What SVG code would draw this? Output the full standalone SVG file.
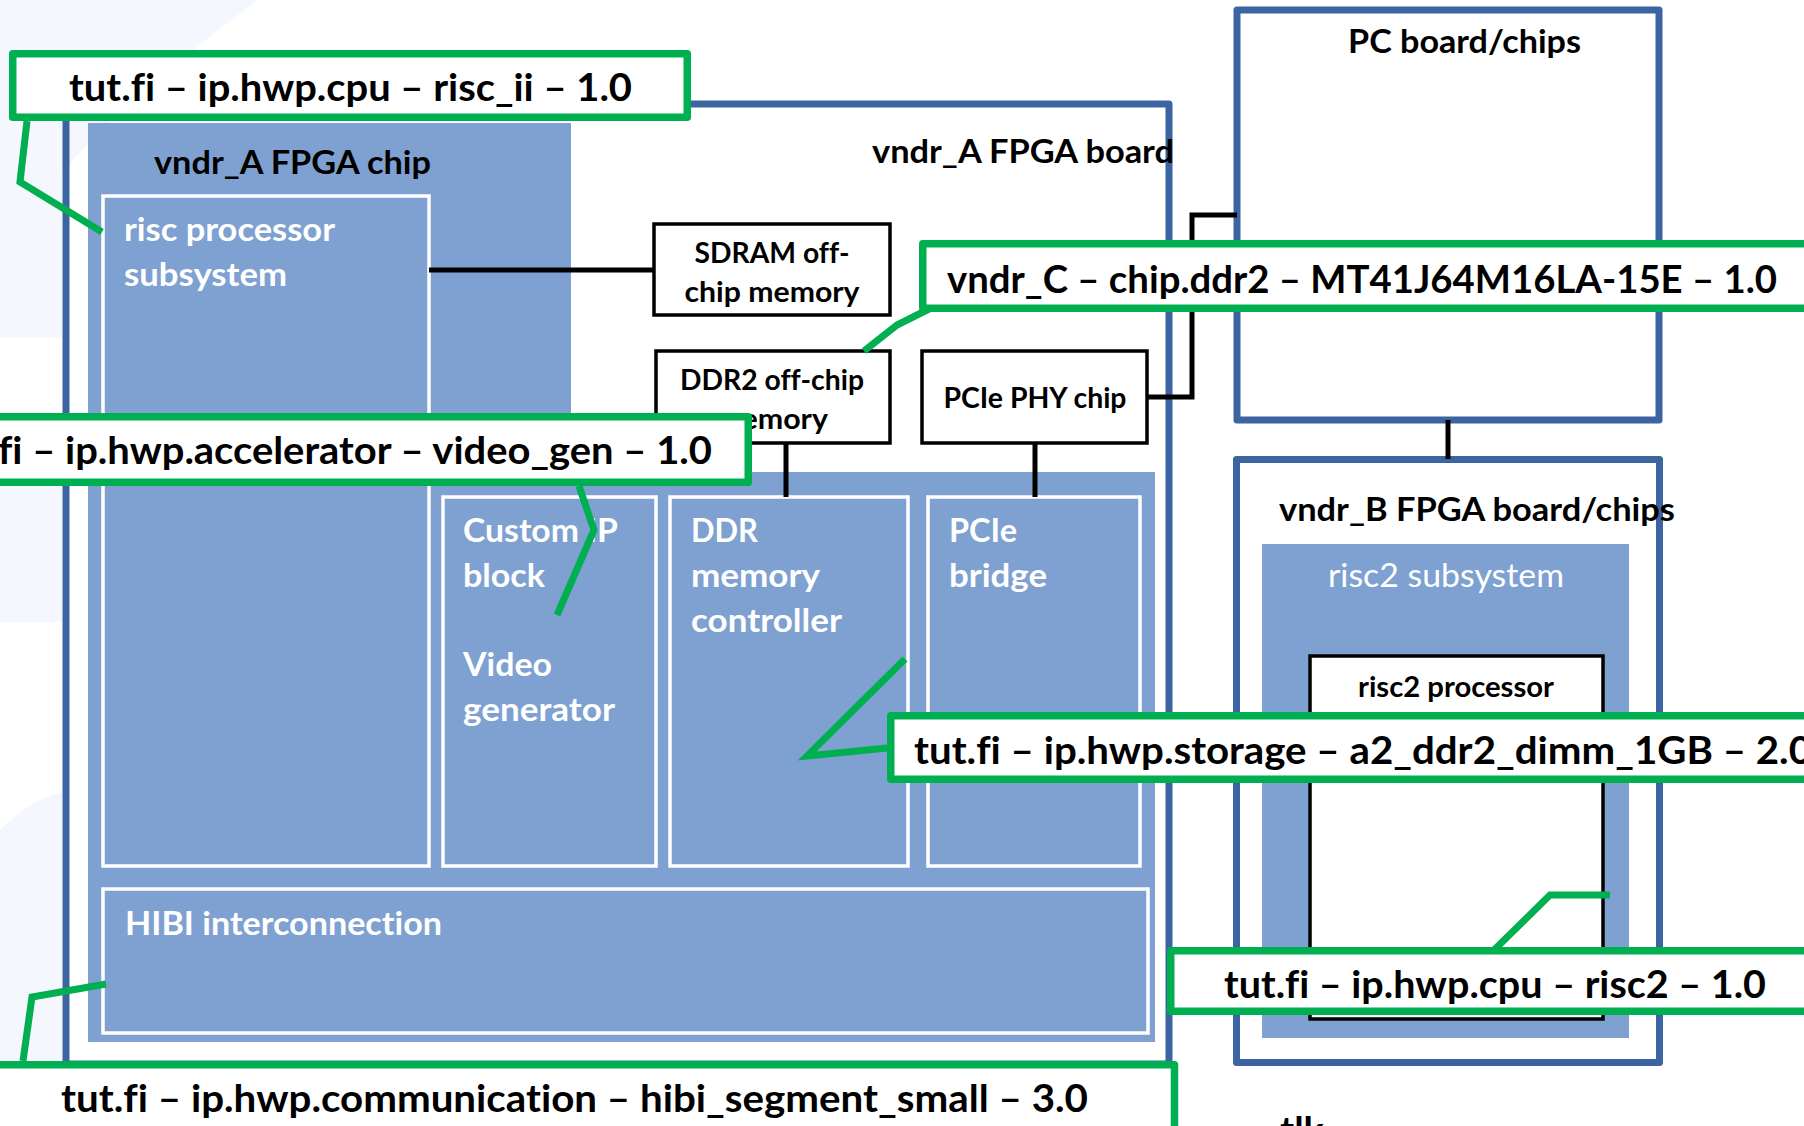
<svg xmlns="http://www.w3.org/2000/svg" width="1804" height="1126" viewBox="0 0 1804 1126">
  <style>
    .board { fill: none; stroke: #3b64a1; stroke-width: 7; stroke-linejoin: round; }
    .chip { fill: #7ea1d1; }
    .blk { fill: #7ea1d1; stroke: #ffffff; stroke-width: 3.5; }
    .part { fill: #ffffff; stroke: #000000; stroke-width: 3.5; }
    .wire { fill: none; stroke: #000000; stroke-width: 5; }
    .tag { fill: #ffffff; stroke: #00b050; stroke-width: 7.5; stroke-linejoin: round; }
    .lead { fill: none; stroke: #00b050; stroke-width: 7; stroke-linejoin: miter; }
    .t { font-family: Lato, "Open Sans", "Liberation Sans", sans-serif; font-weight: 700;
         font-variant-ligatures: none; font-feature-settings: "liga" 0, "clig" 0; }
    .h { font-size: 33px; fill: #000000; }
    .w { font-size: 33px; fill: #ffffff; }
    .wr { font-size: 33px; fill: #ffffff; font-weight: 400; }
    .b { font-size: 28.5px; fill: #000000; text-anchor: middle; }
    .g { font-size: 38px; fill: #000000; }
  </style>

  <!-- slide backdrop -->
  <rect x="0" y="0" width="1804" height="1126" fill="#ffffff"/>
  <g id="backdrop" fill="#f4f7fd">
    <path d="M0,0 H258 Q190,50 120,110 Q80,150 62,175 V338 H0 Z"/>
    <rect x="0" y="468" width="62" height="154"/>
    <path d="M0,830 Q30,800 62,792 V1126 H0 Z"/>
  </g>

  <!-- boards -->
  <g id="board_a">
    <rect class="board" x="66" y="104" width="1103" height="960"/>
    <text class="t h" x="872" y="163" textLength="302" lengthAdjust="spacingAndGlyphs">vndr_A FPGA board</text>
  </g>
  <g id="pc_board">
    <rect class="board" x="1237" y="10" width="422" height="410"/>
    <text class="t h" x="1348" y="53" textLength="233" lengthAdjust="spacingAndGlyphs">PC board/chips</text>
  </g>
  <g id="board_b">
    <rect class="board" x="1236.5" y="459.5" width="423" height="603"/>
    <text class="t h" x="1279" y="521" textLength="396" lengthAdjust="spacingAndGlyphs">vndr_B FPGA board/chips</text>
  </g>

  <!-- FPGA chip on board A -->
  <g id="fpga_chip">
    <path class="chip" d="M88,123 H571 V472 H1155 V1042 H88 Z"/>
    <text class="t h" x="154" y="174" textLength="277" lengthAdjust="spacingAndGlyphs">vndr_A FPGA chip</text>
  </g>
  <g id="risc_subsystem">
    <rect class="blk" x="103" y="196" width="326" height="670"/>
    <text class="t w" x="124" y="241" textLength="211" lengthAdjust="spacingAndGlyphs">risc processor</text>
    <text class="t w" x="124" y="286" textLength="163" lengthAdjust="spacingAndGlyphs">subsystem</text>
  </g>
  <g id="custom_ip">
    <rect class="blk" x="443" y="497" width="213" height="369"/>
    <text class="t w" x="463" y="542" textLength="155" lengthAdjust="spacingAndGlyphs">Custom IP</text>
    <text class="t w" x="463" y="587" textLength="82" lengthAdjust="spacingAndGlyphs">block</text>
    <text class="t w" x="463" y="676" textLength="89" lengthAdjust="spacingAndGlyphs">Video</text>
    <text class="t w" x="463" y="721" textLength="152" lengthAdjust="spacingAndGlyphs">generator</text>
  </g>
  <g id="ddr_ctrl">
    <rect class="blk" x="670" y="497" width="238" height="369"/>
    <text class="t w" x="691" y="542" textLength="67" lengthAdjust="spacingAndGlyphs">DDR</text>
    <text class="t w" x="691" y="587" textLength="129" lengthAdjust="spacingAndGlyphs">memory</text>
    <text class="t w" x="691" y="632" textLength="151" lengthAdjust="spacingAndGlyphs">controller</text>
  </g>
  <g id="pcie_bridge">
    <rect class="blk" x="928" y="497" width="212" height="369"/>
    <text class="t w" x="949" y="542" textLength="68" lengthAdjust="spacingAndGlyphs">PCIe</text>
    <text class="t w" x="949" y="587" textLength="98" lengthAdjust="spacingAndGlyphs">bridge</text>
  </g>
  <g id="hibi">
    <rect class="blk" x="103" y="889" width="1045" height="144"/>
    <text class="t w" x="125" y="935" textLength="317" lengthAdjust="spacingAndGlyphs">HIBI interconnection</text>
  </g>

  <!-- off-chip parts -->
  <g id="sdram">
    <rect class="part" x="654" y="224" width="236" height="91"/>
    <text class="t b" x="772" y="263" textLength="155" lengthAdjust="spacingAndGlyphs">SDRAM off-</text>
    <text class="t b" x="772" y="302" textLength="175" lengthAdjust="spacingAndGlyphs">chip memory</text>
  </g>
  <g id="ddr2">
    <rect class="part" x="656" y="351" width="234" height="92"/>
    <text class="t b" x="772" y="390" textLength="184" lengthAdjust="spacingAndGlyphs">DDR2 off-chip</text>
    <text class="t b" x="772" y="429" textLength="112" lengthAdjust="spacingAndGlyphs">memory</text>
  </g>
  <g id="pcie_phy">
    <rect class="part" x="922" y="351" width="225" height="92"/>
    <text class="t b" x="1035" y="408" textLength="183" lengthAdjust="spacingAndGlyphs">PCIe PHY chip</text>
  </g>

  <!-- board B contents -->
  <g id="risc2_subsystem">
    <rect class="chip" x="1262" y="544" width="367" height="494"/>
    <text class="t wr" x="1328" y="587" textLength="236" lengthAdjust="spacingAndGlyphs">risc2 subsystem</text>
  </g>
  <g id="risc2_processor">
    <rect class="part" x="1310" y="656" width="293" height="363"/>
    <text class="t b" x="1456" y="697" textLength="196" lengthAdjust="spacingAndGlyphs">risc2 processor</text>
  </g>

  <!-- connectors -->
  <g id="connectors">
    <path class="wire" d="M429,270 H654"/>
    <path class="wire" d="M786,443 V497"/>
    <path class="wire" d="M1035,443 V497"/>
    <path class="wire" d="M1147,397 H1192 V215 H1237"/>
    <path class="wire" d="M1448,420 V459"/>
  </g>

  <!-- VLNV tags with their leader lines -->
  <g id="tag_cpu">
    <path class="lead" d="M27,121 L20,182 L102,232"/>
    <rect class="tag" x="12.75" y="53.75" width="674.5" height="63.5"/>
    <text class="t g" x="69" y="101" textLength="563" lengthAdjust="spacingAndGlyphs">tut.fi – ip.hwp.cpu – risc_ii – 1.0</text>
  </g>
  <g id="tag_video_gen">
    <path class="lead" d="M579,486 L594,530 L557,615"/>
    <rect class="tag" x="-20" y="416.75" width="768.25" height="65.5"/>
    <text class="t g" x="-2" y="464" textLength="714" lengthAdjust="spacingAndGlyphs">fi – ip.hwp.accelerator – video_gen – 1.0</text>
  </g>
  <g id="tag_ddr2_chip">
    <path class="lead" d="M937,305 L897,325 L864,351"/>
    <rect class="tag" x="922.75" y="243.75" width="900" height="64.5"/>
    <text class="t g" x="947" y="293" textLength="830" lengthAdjust="spacingAndGlyphs">vndr_C – chip.ddr2 – MT41J64M16LA-15E – 1.0</text>
  </g>
  <g id="tag_storage">
    <path class="lead" d="M887,748 L807,756 L905,659"/>
    <rect class="tag" x="890.75" y="715.75" width="930" height="63.5"/>
    <text class="t g" x="914" y="764" textLength="898" lengthAdjust="spacingAndGlyphs">tut.fi – ip.hwp.storage – a2_ddr2_dimm_1GB – 2.0</text>
  </g>
  <g id="tag_risc2">
    <path class="lead" d="M1494,950 L1550,895 L1610,895"/>
    <rect class="tag" x="1170.75" y="950.75" width="650" height="60.5"/>
    <text class="t g" x="1224" y="998" textLength="542" lengthAdjust="spacingAndGlyphs">tut.fi – ip.hwp.cpu – risc2 – 1.0</text>
  </g>
  <g id="tag_hibi">
    <path class="lead" d="M23,1061 L32,997 L106,984"/>
    <rect class="tag" x="-20" y="1064.75" width="1194.5" height="100"/>
    <text class="t g" x="61" y="1112" textLength="1027" lengthAdjust="spacingAndGlyphs">tut.fi – ip.hwp.communication – hibi_segment_small – 3.0</text>
  </g>

  <!-- text running off the lower edge -->
  <text class="t g" x="1280" y="1144">tlk</text>
</svg>
